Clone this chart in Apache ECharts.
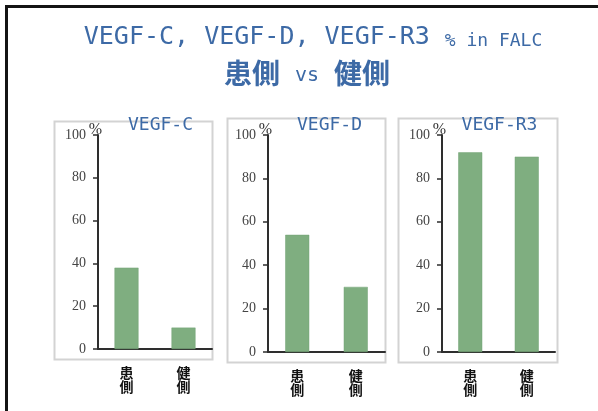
<!DOCTYPE html>
<html>
<head>
<meta charset="utf-8">
<script src="https://cdn.jsdelivr.net/npm/echarts@6/dist/echarts.min.js"></script>
<style>html,body{margin:0;padding:0;background:#fff}#c{width:598px;height:411px}</style>
</head>
<body>
<div id="c"></div>
<script>
var categories = ['患側', '健側'];
var panelTitles = ['VEGF-C', 'VEGF-D', 'VEGF-R3'];
var vegfC = [38, 10];
var vegfD = [54, 30];
var vegfR3 = [92, 90];
var yMin = 0, yMax = 100, yStep = 20;
var titleLine1 = 'VEGF-C, VEGF-D, VEGF-R3';
var titleLine1Small = '% in FALC';
var titleLine2a = '患側', titleLine2b = 'vs', titleLine2c = '健側';
var unitName = '%';

var seriesData = [vegfC, vegfD, vegfR3];
var grids = [
  {left: 98, top: 135, width: 114, height: 214},
  {left: 268, top: 135, width: 117, height: 217},
  {left: 442, top: 135, width: 113, height: 217}
];
var boxes = [
  {x: 54, y: 121, w: 158, h: 238},
  {x: 227, y: 118, w: 158, h: 244},
  {x: 398, y: 118, w: 159, h: 244}
];
var titleX = [160.5, 329.5, 499.5];

var blue = '#3d6aa6';
var green = '#7fae80';
var axisColor = '#2e2e2e';

var chart = echarts.init(document.getElementById('c'));
var xAxes = [], yAxes = [], series = [], graphics = [];

graphics.push({type: 'rect', shape: {x: 6.5, y: 6.5, width: 800, height: 800},
  style: {fill: '#fff', stroke: '#141414', lineWidth: 3}, z: -10});

boxes.forEach(function (b) {
  graphics.push({type: 'rect', shape: {x: b.x + 0.5, y: b.y + 0.5, width: b.w, height: b.h},
    style: {fill: '#fff', stroke: '#d3d3d3', lineWidth: 2}, z: -5});
});

graphics.push({type: 'text', x: 313, y: 50, z: 10,
  style: {
    text: '{a|' + titleLine1 + '}{b| ' + titleLine1Small + '}',
    textAlign: 'center', textVerticalAlign: 'bottom',
    rich: {
      a: {fontFamily: 'DejaVu Sans Mono', fontSize: 25, fill: blue, verticalAlign: 'bottom', lineHeight: 25},
      b: {fontFamily: 'DejaVu Sans Mono', fontSize: 18, fill: blue, verticalAlign: 'bottom', lineHeight: 21, padding: [0, 0, 0, 4]}
    }
  }});
graphics.push({type: 'text', x: 307, y: 73, z: 10,
  style: {
    text: '{c|' + titleLine2a + '}{s| ' + titleLine2b + ' }{c|' + titleLine2c + '}',
    textAlign: 'center', textVerticalAlign: 'middle',
    rich: {
      c: {fontFamily: 'Noto Sans CJK JP', fontWeight: 'bold', fontSize: 28, fill: blue, verticalAlign: 'middle'},
      s: {fontFamily: 'DejaVu Sans Mono', fontSize: 20, fill: blue, verticalAlign: 'middle', padding: [6, 3, 0, 3]}
    }
  }});

panelTitles.forEach(function (t, i) {
  graphics.push({type: 'text', x: titleX[i], y: 125, z: 10,
    style: {text: t, textAlign: 'center', textVerticalAlign: 'middle',
      fontFamily: 'DejaVu Sans Mono', fontSize: 18, fill: blue}});
});

grids.forEach(function (g, i) {
  xAxes.push({
    type: 'category', gridIndex: i, data: categories,
    axisLine: {lineStyle: {color: axisColor, width: 2}},
    axisTick: {show: false},
    axisLabel: {
      interval: 0, margin: 17, color: '#111', fontSize: 14, fontWeight: 'bold',
      fontFamily: 'Noto Sans CJK JP', lineHeight: 14,
      formatter: function (v) { return v.split('').join('\n'); }
    }
  });
  yAxes.push({
    type: 'value', gridIndex: i, min: yMin, max: yMax, interval: yStep,
    name: unitName, nameLocation: 'end', nameGap: 13, nameMoveOverlap: false,
    nameTextStyle: {color: '#333', fontSize: 16, fontFamily: 'Liberation Serif', align: 'right', verticalAlign: 'top', padding: [0, -4, 0, 0]},
    axisLine: {show: true, lineStyle: {color: axisColor, width: 2}},
    axisTick: {show: true, length: 5, lineStyle: {color: axisColor, width: 1.5}},
    splitLine: {show: false},
    axisLabel: {color: '#444', fontSize: 14, fontFamily: 'Liberation Serif', margin: 12}
  });
  series.push({
    type: 'bar', xAxisIndex: i, yAxisIndex: i, data: seriesData[i],
    barWidth: 24, itemStyle: {color: green, borderColor: '#72a374', borderWidth: 0.5},
    silent: true
  });
});

chart.setOption({
  animation: false,
  backgroundColor: '#fff',
  grid: grids,
  xAxis: xAxes,
  yAxis: yAxes,
  series: series,
  graphic: graphics
});
</script>
</body>
</html>
